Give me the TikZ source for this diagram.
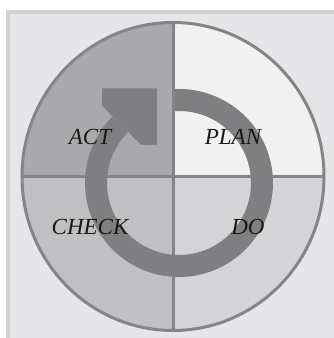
\documentclass[tikz,border=0pt]{standalone}
\usepackage{fontspec}
\setmainfont{Liberation Serif}
\definecolor{framegray}{HTML}{D2D2D3}
\definecolor{panelgray}{HTML}{E6E6E8}
\definecolor{actgray}{HTML}{A9A9AB}
\definecolor{plangray}{HTML}{F1F1F1}
\definecolor{checkgray}{HTML}{C0C0C2}
\definecolor{dogray}{HTML}{D4D4D6}
\definecolor{rimgray}{HTML}{858587}
\definecolor{arrowgray}{HTML}{7F7F82}
\begin{document}
\begin{tikzpicture}[x=1pt, y=1pt,
	rim/.style={draw=rimgray, line width=3pt},
	ring/.style={draw=arrowgray, line width=22pt},
	lbl/.style={font=\fontsize{23}{23}\selectfont\itshape, text=black!90, inner sep=0pt, anchor=base},
	]
	
	\useasboundingbox (0,0) rectangle (334,338);
	\fill[white] (0,0) rectangle (334,338);
	\fill[framegray] (6,0) rectangle (334,328);
	\fill[panelgray] (10,0) rectangle (334,324);
	
	\coordinate (c)   at (173,161.5);
	\coordinate (top) at (173,315.5);
	\coordinate (bot) at (173,7.5);
	\coordinate (lft) at (22,161.5);
	\coordinate (rgt) at (324,161.5);
	
	% quadrants
	\fill[actgray]   (c) -- (lft) arc[start angle=180, end angle=90,  x radius=151, y radius=154] -- cycle;
	\fill[plangray]  (c) -- (top) arc[start angle=90,  end angle=0,   x radius=151, y radius=154] -- cycle;
	\fill[dogray]    (c) -- (rgt) arc[start angle=0,   end angle=-90, x radius=151, y radius=154] -- cycle;
	\fill[checkgray] (c) -- (bot) arc[start angle=-90, end angle=-180, x radius=151, y radius=154] -- cycle;
	
	\draw[rim] (c) ellipse [x radius=151, y radius=154];
	\draw[rim] (top) -- (bot);
	\draw[rim] (lft) -- (rgt);
	
	% cycle arrow
	\coordinate (rc) at (179,155);
	\draw[ring] (rc) ++(92.8:83) arc[start angle=92.8, end angle=-225, radius=83];
	\fill[arrowgray] (157,249.5) -- (102,249.5) -- (102,232) -- (141,193) -- (157,193) -- cycle;
	
	\node[lbl] (act)   at (90,193)  {ACT};
	\node[lbl] (plan)  at (233,193) {PLAN};
	\node[lbl] (check) at (90,103)  {CHECK};
	\node[lbl] (do)    at (248,103) {DO};
	
\end{tikzpicture}
\end{document}
